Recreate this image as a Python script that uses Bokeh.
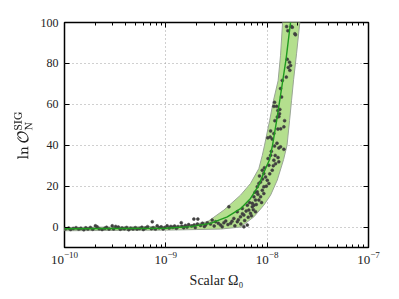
from bokeh.plotting import figure
from bokeh.models import LogAxis, LinearAxis, CustomJSTickFormatter, FixedTicker
from bokeh.embed import file_html
from bokeh.resources import INLINE

# ---- data ----
mean_omega = [1.0e-10, 1.0e-9, 1.75e-9, 2.76e-9, 4.04e-9, 5.46e-9, 6.85e-9, 8.28e-9,
              9.64e-9, 1.057e-8, 1.13e-8, 1.24e-8, 1.39e-8, 1.54e-8, 1.70e-8, 1.78e-8]
mean_lnO = [-0.8, -0.6, 0.2, 1.8, 5.0, 9.0, 14.0, 20.5,
            28.6, 33.0, 40.0, 52.0, 68.0, 82.5, 100.0, 110.0]

upper_omega = [1.0e-10, 1.016e-9, 1.75e-9, 2.58e-9, 3.74e-9, 5.46e-9, 6.85e-9, 8.28e-9,
               8.95e-9, 9.42e-9, 1.057e-8, 1.156e-8, 1.282e-8, 1.355e-8, 1.419e-8, 1.45e-8]
upper_lnO = [-0.2, 0.2, 1.0, 2.6, 8.3, 15.6, 21.3, 28.6,
             35.0, 40.0, 52.0, 62.0, 71.5, 84.0, 100.0, 106.0]

lower_omega = [1.0e-10, 1.016e-9, 3.47e-9, 5.46e-9, 7.40e-9, 9.27e-9, 1.081e-8, 1.259e-8,
               1.452e-8, 1.571e-8, 1.663e-8, 1.741e-8, 1.823e-8, 1.952e-8, 2.10e-8, 2.16e-8]
lower_lnO = [-1.8, -1.5, -1.0, 0.0, 5.0, 10.7, 15.6, 23.0,
             33.0, 40.0, 52.0, 62.0, 72.0, 85.0, 100.0, 106.0]

sample_omega = [
    1.02e-10, 1.1e-10, 1.15e-10, 1.22e-10, 1.3e-10, 1.38e-10, 1.45e-10, 1.55e-10, 1.62e-10, 1.7e-10,
    1.8e-10, 1.9e-10, 2.02e-10, 2.1e-10, 2.2e-10, 2.35e-10, 2.5e-10, 2.6e-10, 2.75e-10, 2.96e-10,
    3.05e-10, 3.2e-10, 3.4e-10, 3.55e-10, 3.7e-10, 3.9e-10, 4.1e-10, 4.3e-10, 4.5e-10, 4.75e-10,
    5.0e-10, 5.2e-10, 5.5e-10, 5.8e-10, 6.0e-10, 6.3e-10, 6.6e-10, 7.35e-10, 7.2e-10, 7.5e-10,
    7.9e-10, 8.22e-10, 8.6e-10, 9.0e-10, 9.4e-10, 9.8e-10, 1.03e-9, 1.08e-9, 1.12e-9, 1.17e-9,
    1.22e-9, 1.27e-9, 1.32e-9, 1.42e-9, 1.44e-9, 1.5e-9, 1.56e-9, 1.62e-9, 1.68e-9, 1.89e-9,
    1.8e-9, 2.07e-9, 1.9e-9, 1.95e-9, 2.57e-9, 2.05e-9, 2.87e-9, 2.2e-9, 2.3e-9, 2.4e-9,
    2.466e-9, 2.76e-9, 3.10e-9, 3.47e-9, 3.74e-9, 4.19e-9, 4.36e-9, 4.69e-9, 5.07e-9, 5.07e-9,
    5.46e-9, 5.68e-9, 5.89e-9, 5.89e-9, 6.37e-9, 6.37e-9, 6.59e-9, 6.85e-9, 7.13e-9, 7.13e-9,
    7.40e-9, 7.40e-9, 7.67e-9, 7.67e-9, 7.98e-9, 7.98e-9, 8.28e-9, 8.28e-9, 8.61e-9, 8.61e-9,
    8.95e-9, 8.95e-9, 9.27e-9, 9.27e-9, 9.27e-9, 9.64e-9, 1.002e-8, 1.040e-8, 1.040e-8, 1.081e-8,
    1.122e-8, 1.164e-8, 1.211e-8, 1.303e-8,
    3.0e-9, 3.3e-9, 3.6e-9, 3.9e-9, 4.1e-9, 4.5e-9, 4.8e-9, 5.2e-9, 5.5e-9, 5.7e-9,
    6.0e-9, 6.2e-9, 6.5e-9, 6.7e-9, 7.0e-9, 7.3e-9, 7.6e-9, 7.8e-9, 8.1e-9, 8.4e-9,
    8.8e-9, 9.0e-9, 9.4e-9, 9.8e-9, 1.02e-8, 1.06e-8, 1.1e-8, 1.15e-8, 1.2e-8, 1.25e-8, 1.28e-8,
    1.183e-8, 1.303e-8, 1.355e-8, 1.014e-8, 1.072e-8, 1.164e-8, 1.276e-8, 1.081e-8, 1.486e-8, 1.259e-8,
    1.324e-8, 1.276e-8, 1.164e-8, 1.183e-8, 1.387e-8, 1.355e-8, 1.409e-8, 1.546e-8, 1.675e-8, 1.615e-8,
    1.702e-8, 1.663e-8, 1.578e-8, 1.875e-8, 1.770e-8, 1.600e-8, 1.556e-8, 1.729e-8, 1.905e-8,
    1.122e-8, 1.462e-8, 1.462e-8, 1.191e-8, 1.358e-8, 1.306e-8, 1.239e-8, 1.334e-8,
]
sample_lnO = [
    -0.9, -0.5, -1.2, -0.7, -0.3, -1.0, -0.6, -1.3, -0.4, -0.9,
    -0.2, -1.1, 0.6, 0.1, -0.8, -1.2, -0.6, -0.1, -1.0, 0.6,
    -0.9, 0.3, 0.0, -1.1, -0.5, -0.8, -0.2, -1.3, -0.6, -0.9,
    -0.3, -1.0, -0.7, -0.1, -1.2, -0.5, 0.2, 2.6, -0.8, -0.3,
    -1.0, 0.6, -0.4, 0.1, -0.9, -0.2, 0.6, -0.5, 0.3, -0.1,
    0.5, -0.6, 0.2, 2.1, 0.4, -0.3, 0.8, 0.0, 1.2, 3.9,
    0.5, 3.9, 1.0, -0.2, 2.1, 1.5, 3.4, 0.8, 1.9, 0.3,
    1.0, 1.5, 2.6, 1.0, 2.1, 9.9, 1.8, 4.2, 2.6, 7.5,
    5.0, 9.1, 5.9, 0.1, 1.0, 10.7, 8.3, 6.7, 11.6, 9.9,
    10.7, 14.8, 7.5, 13.2, 19.7, 17.2, 13.2, 21.3, 22.0, 14.8,
    18.0, 27.8, 26.2, 19.7, 16.4, 24.5, 22.9, 30.2, 21.3, 35.1,
    27.8, 32.7, 31.0, 31.9,
    0.5, 1.8, 0.2, 3.0, 1.2, 2.8, 0.6, 3.6, 1.5, 6.5,
    3.2, 7.8, 4.8, 12.0, 5.5, 8.5, 17.0, 11.0, 16.0, 25.0,
    12.0, 23.5, 29.0, 20.0, 33.5, 26.0, 37.0, 30.0, 35.0, 41.0, 34.0,
    39.6, 38.7, 39.2, 43.6, 44.0, 45.7, 47.9, 47.0, 52.0, 53.8,
    55.4, 57.0, 59.0, 61.0, 63.6, 67.7, 71.7, 73.3, 76.6, 78.0,
    79.0, 80.6, 82.0, 94.5, 97.7, 96.0, 98.0, 98.0, 94.0,
    43.0, 38.0, 49.0, 52.0, 48.0, 54.0, 59.0, 57.5,
]

x_ticks = [1e-10, 1e-9, 1e-8, 1e-7]
x_minor = [k * d for d in [1e-10, 1e-9, 1e-8] for k in range(2, 10)]
y_ticks = [0, 20, 40, 60, 80, 100]

SERIF = "Liberation Serif"

p = figure(width=391, height=291, x_axis_type="log", x_range=(1e-10, 1e-7), y_range=(-10, 100),
           output_backend="svg", toolbar_location=None,
           min_border_left=64, min_border_right=23, min_border_top=22, min_border_bottom=44)

p.outline_line_color = "black"
p.outline_line_width = 1.5

band_x = upper_omega + lower_omega[::-1]
band_y = upper_lnO + lower_lnO[::-1]
p.patch(band_x, band_y, fill_color="#b4df8e", fill_alpha=1.0, line_color="#9aa596", line_width=1)
p.scatter(sample_omega, sample_lnO, size=3.0, fill_color="#404040", line_color="#404040", line_width=0.5)
p.line(mean_omega, mean_lnO, line_color="#1f9a1f", line_width=1.4)

# grid
for g in (p.xgrid, p.ygrid):
    g.grid_line_color = "#a0a0a0"
    g.grid_line_dash = "1 3"
    g.grid_line_width = 1
p.xgrid.ticker = FixedTicker(ticks=x_ticks)
p.ygrid.ticker = FixedTicker(ticks=y_ticks)

def style_axis(ax):
    ax.axis_line_color = None
    ax.major_tick_in = 5
    ax.major_tick_out = 0
    ax.minor_tick_in = 3
    ax.minor_tick_out = 0
    ax.major_tick_line_width = 1
    ax.major_label_text_font = SERIF
    ax.major_label_text_font_size = "12px"
    ax.major_label_text_color = "#222222"
    ax.axis_label_text_font = SERIF
    ax.axis_label_text_font_style = "normal"
    ax.axis_label_text_font_size = "14px"
    ax.axis_label_text_color = "#222222"

xa = p.xaxis[0]
ya = p.yaxis[0]
style_axis(xa)
style_axis(ya)
xa.ticker = FixedTicker(ticks=x_ticks, minor_ticks=x_minor)
xa.major_label_text_font_size = "13px"
ya.ticker = FixedTicker(ticks=y_ticks)
ya.minor_tick_in = 0
xa.axis_label = "Scalar Ω₀"
ya.axis_label = r"$$\ln \mathcal{O}^{\rm SIG}_{\rm N}$$"
xa.major_label_standoff = 4
xa.axis_label_standoff = 6
ya.major_label_standoff = 6

top = LogAxis(ticker=FixedTicker(ticks=x_ticks, minor_ticks=x_minor),
              formatter=CustomJSTickFormatter(code="return ''"))
right = LinearAxis(ticker=FixedTicker(ticks=y_ticks), formatter=CustomJSTickFormatter(code="return ''"))
for ax in (top, right):
    style_axis(ax)
    ax.major_label_standoff = 0
right.minor_tick_in = 0
p.add_layout(top, "above")
p.add_layout(right, "right")

open("out.html", "w").write(file_html(p, INLINE))
